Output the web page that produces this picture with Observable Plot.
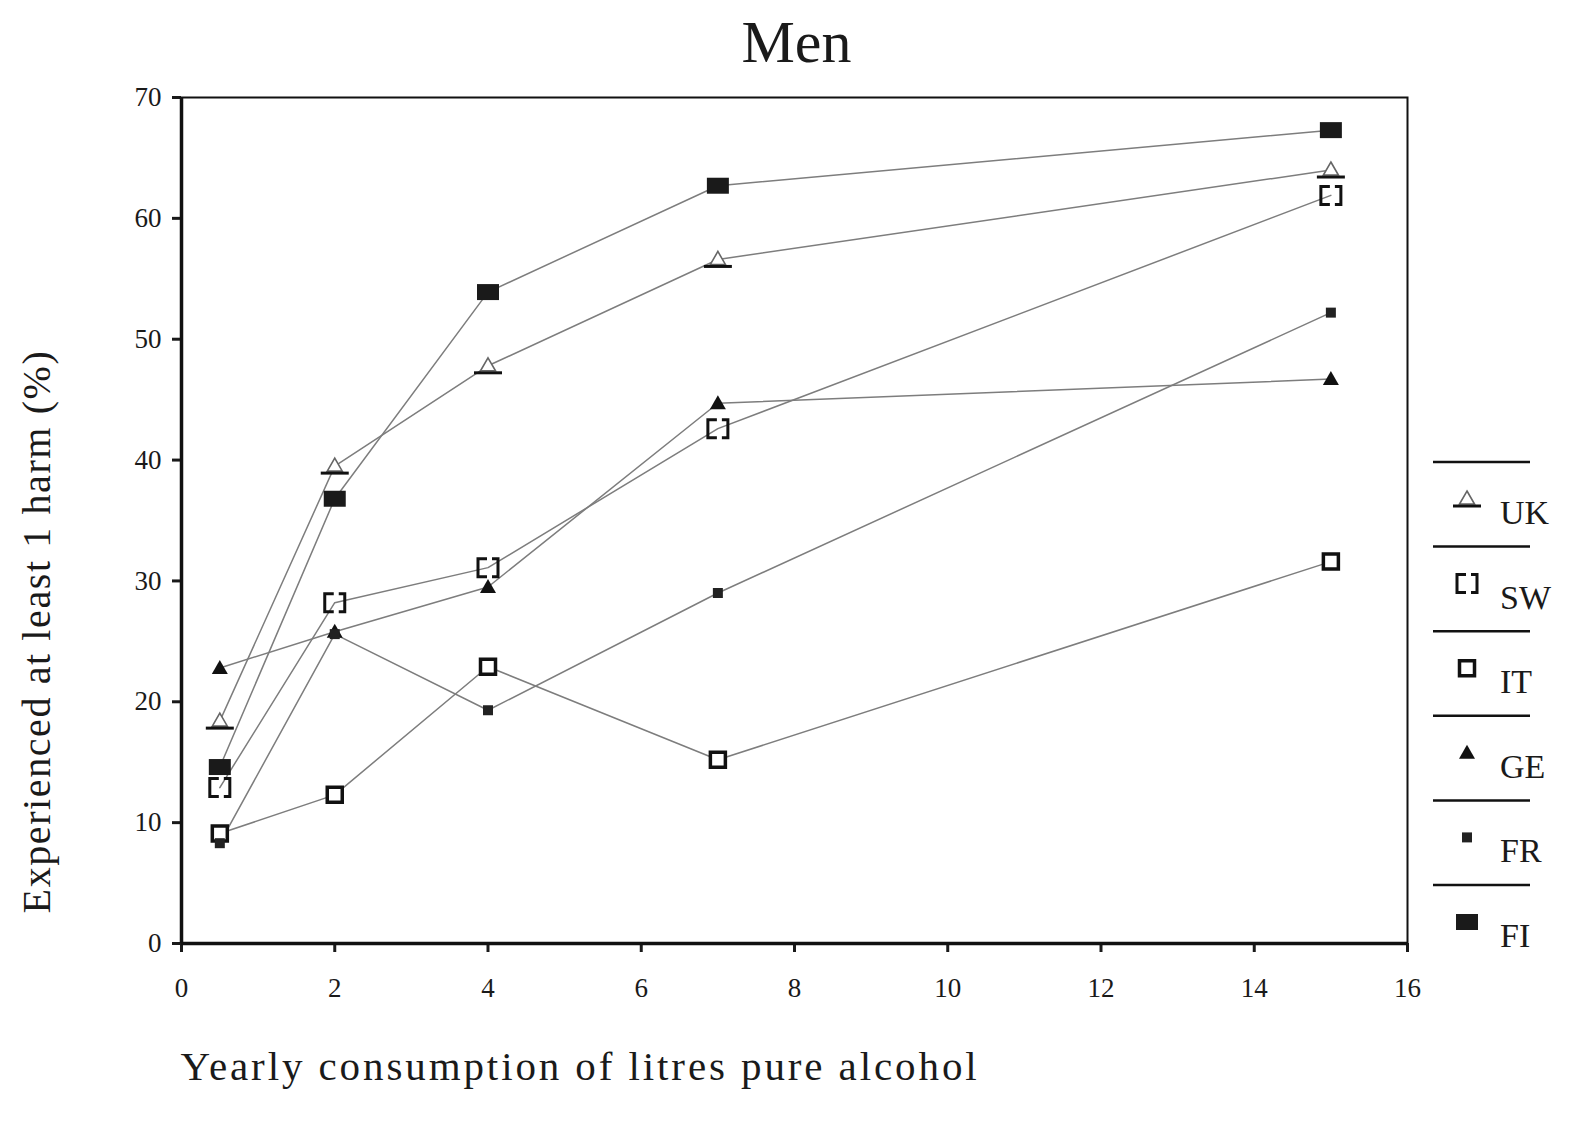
<!DOCTYPE html>
<html><head><meta charset="utf-8">
<script src="https://cdn.jsdelivr.net/npm/d3@7"></script>
<script src="https://cdn.jsdelivr.net/npm/@observablehq/plot@0.6"></script>
<style>
body{margin:0;background:#fff;}
#wrap{width:1593px;height:1136px;position:relative;font-family:"Liberation Serif","Times New Roman",serif;color:#1a1a1a;overflow:hidden;}
#title{height:80px;line-height:84px;text-align:center;font-size:60px;}
#row{display:flex;flex-direction:row;}
</style></head><body>
<div id="wrap"><div id="title"></div><div id="row"><div id="chart"></div><div id="legend"></div></div></div>
<script>
const titleText = "Men";
const xLabel = "Yearly consumption of litres pure alcohol";
const yLabel = "Experienced at least 1 harm (%)";
const consumption = [0.5, 2, 4, 7, 15];
const countries = ["UK", "SW", "IT", "GE", "FR", "FI"];
const ukValues = [18.4, 39.5, 47.8, 56.6, 64.0];
const swValues = [12.9, 28.2, 31.1, 42.6, 61.9];
const itValues = [9.1, 12.3, 22.9, 15.2, 31.6];
const geValues = [22.8, 25.8, 29.5, 44.7, 46.7];
const frValues = [8.3, 25.6, 19.3, 29.0, 52.2];
const fiValues = [14.6, 36.8, 53.9, 62.7, 67.3];
const xTicks = [0, 2, 4, 6, 8, 10, 12, 14, 16];
const yTicks = [0, 10, 20, 30, 40, 50, 60, 70];

const valuesByCountry = [ukValues, swValues, itValues, geValues, frValues, fiValues];
const table = [];
countries.forEach((c, ci) => consumption.forEach((x, i) => table.push({country: c, x, y: valuesByCountry[ci][i]})));
const of = c => table.filter(d => d.country === c);

// marker shapes
const symTriOpen = {draw(c){c.moveTo(0,-8);c.lineTo(7.5,5);c.lineTo(-7.5,5);c.closePath();}};
const symUnderline = {draw(c){c.moveTo(-14,7);c.lineTo(14,7);}};
const symBracket = {draw(c){c.moveTo(-1,-9);c.lineTo(-10,-9);c.lineTo(-10,9);c.lineTo(-1,9);c.moveTo(4,-9);c.lineTo(10,-9);c.lineTo(10,9);c.lineTo(4,9);}};
const symSquareOpen = {draw(c){c.moveTo(-7.5,-7.5);c.lineTo(7.5,-7.5);c.lineTo(7.5,7.5);c.lineTo(-7.5,7.5);c.closePath();}};
const symTriFill = {draw(c){c.moveTo(0,-8);c.lineTo(8,6);c.lineTo(-8,6);c.closePath();}};
const symSmallSquare = {draw(c){c.moveTo(-5,-5);c.lineTo(5,-5);c.lineTo(5,5);c.lineTo(-5,5);c.closePath();}};
const symRect = {draw(c){c.moveTo(-11,-8);c.lineTo(11,-8);c.lineTo(11,8);c.lineTo(-11,8);c.closePath();}};

const styles = {
  UK: [{symbol: symTriOpen, stroke: "#666", strokeWidth: 1.6, fill: "white"}, {symbol: symUnderline, stroke: "#111", strokeWidth: 3, fill: "none"}],
  SW: [{symbol: symBracket, stroke: "#111", strokeWidth: 3, fill: "none"}],
  IT: [{symbol: symSquareOpen, stroke: "#111", strokeWidth: 3.5, fill: "white"}],
  GE: [{symbol: symTriFill, fill: "#111", stroke: "none"}],
  FR: [{symbol: symSmallSquare, fill: "#222", stroke: "none"}],
  FI: [{symbol: symRect, fill: "#1a1a1a", stroke: "none"}]
};

document.getElementById("title").textContent = titleText;

const W = 1425, H = 1056;
const dotMarks = [];
countries.forEach(c => styles[c].forEach(s => dotMarks.push(Plot.dot(of(c), {x: "x", y: "y", r: 5, ...s}))));

const chart = Plot.plot({
  width: W, height: H,
  marginLeft: 181, marginRight: 18, marginTop: 17, marginBottom: 193,
  style: {fontFamily: "Liberation Serif, Times New Roman, serif", fontSize: "27px", color: "#1a1a1a", background: "white"},
  x: {domain: [0, 16]},
  y: {domain: [0, 70]},
  marks: [
    Plot.frame({stroke: "#111", strokeWidth: 2}),
    Plot.axisX({ticks: xTicks, tickSize: 9, tickPadding: 25, label: null, strokeWidth: 3, tickFormat: d => d}),
    Plot.axisY({ticks: yTicks, tickSize: 9, tickPadding: 11, label: null, strokeWidth: 3, tickFormat: d => d}),
    Plot.ruleX([0], {stroke: "#111", strokeWidth: 3.5}),
    Plot.ruleY([0], {stroke: "#111", strokeWidth: 3.5}),
    Plot.line(table, {x: "x", y: "y", z: "country", stroke: "#7d7d7d", strokeWidth: 1.5}),
    ...dotMarks,
    Plot.text([yLabel], {text: d => d, frameAnchor: "left", rotate: -90, textAnchor: "middle", lineAnchor: "middle", dx: -144, dy: 111, fontSize: 40, fill: "#1a1a1a"}),
    Plot.text([xLabel], {text: d => d, frameAnchor: "bottom-left", textAnchor: "start", lineAnchor: "middle", dx: -1, dy: 123, fontSize: 41, fill: "#1a1a1a"})
  ]
});
document.getElementById("chart").appendChild(chart);
chart.querySelectorAll("text").forEach(t => {
  if (t.textContent === xLabel) t.setAttribute("letter-spacing", "2.9");
  if (t.textContent === yLabel) t.setAttribute("letter-spacing", "1.6");
});

// legend
const LW = 168;
const lg = d3.select("#legend").append("svg").attr("width", LW).attr("height", H)
  .style("font-family", "Liberation Serif, Times New Roman, serif").style("font-size", "34px");
countries.forEach((c, i) => {
  const y0 = 382 + i * 84.6;
  lg.append("line").attr("x1", 8).attr("x2", 105).attr("y1", y0).attr("y2", y0).attr("stroke", "#111").attr("stroke-width", 2.5);
  styles[c].forEach(s => {
    lg.append("path").attr("d", d3.symbol(s.symbol)()).attr("transform", `translate(42,${y0 + 37})`)
      .attr("fill", s.fill || "none").attr("stroke", s.stroke || "none").attr("stroke-width", s.strokeWidth || 0);
  });
  lg.append("text").attr("x", 75).attr("y", y0 + 62).attr("fill", "#1a1a1a").text(c);
});
</script>
</body></html>
